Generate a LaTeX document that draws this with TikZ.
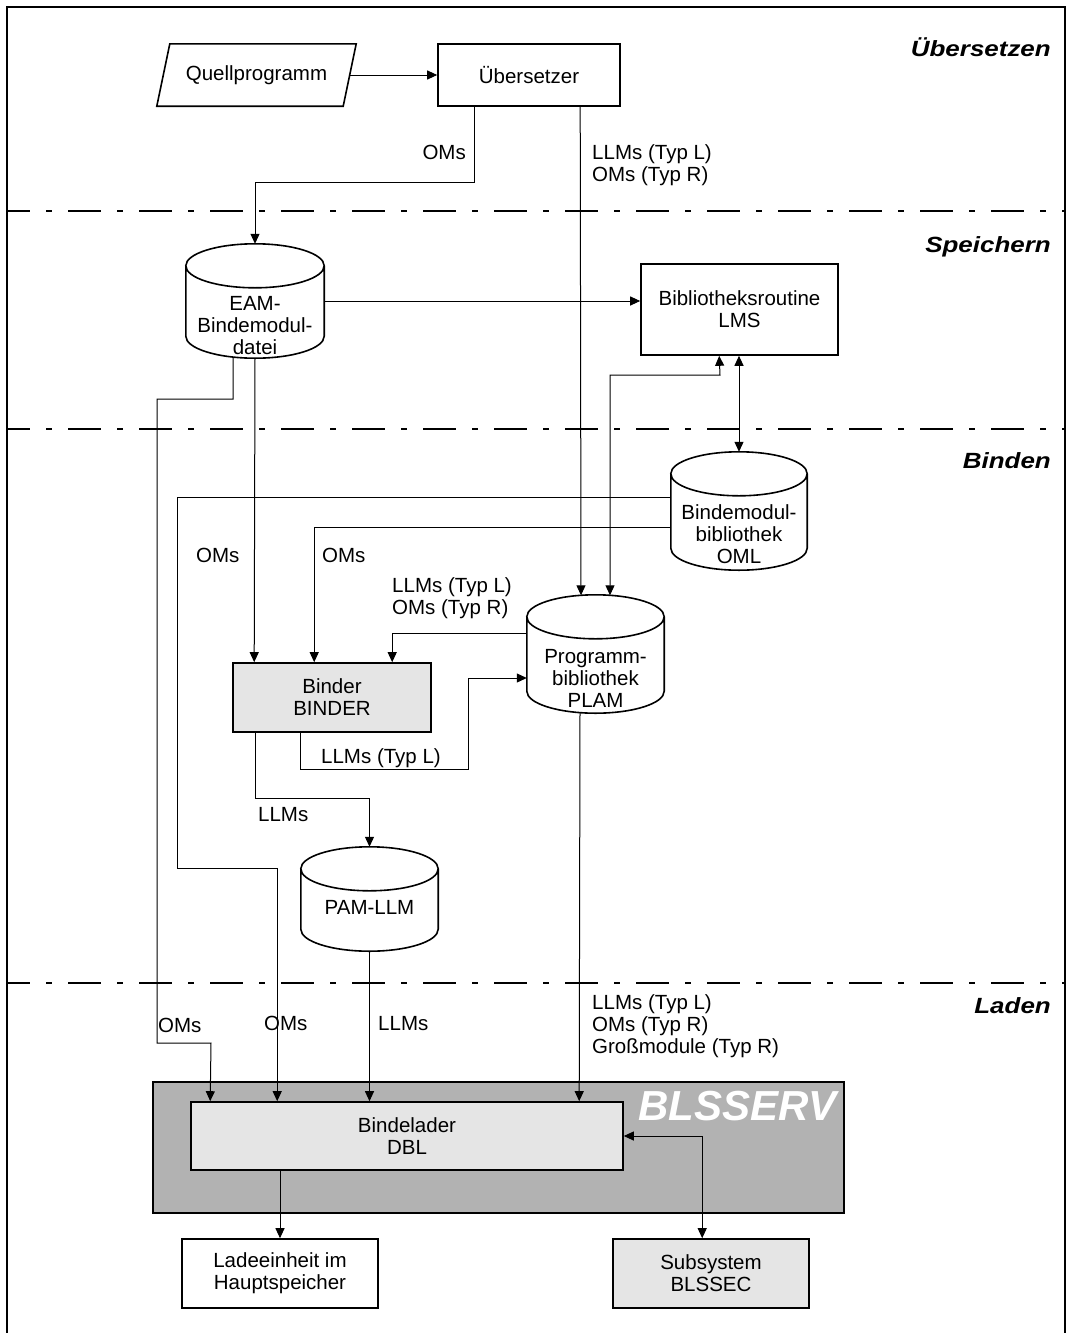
\documentclass[tikz,border=0pt]{standalone}
\usepackage{fontspec}
\setmainfont{Liberation Sans}
\newfontfamily\secfont[FakeStretch=1.18]{Liberation Sans}
\usetikzlibrary{arrows.meta,calc}
\newcommand\cylr{22pt}
\newcommand\drawcyl[1]{%
  \draw[cylline] let \p1=(#1.north west), \p2=(#1.south east) in
    (\x1,{\y1-\cylr}) -- (\x1,{\y2+\cylr})
    arc[start angle=180, end angle=360, x radius={(\x2-\x1)/2}, y radius=\cylr]
    -- (\x2,{\y1-\cylr})
    arc[start angle=0, end angle=180, x radius={(\x2-\x1)/2}, y radius=\cylr]
    arc[start angle=180, end angle=360, x radius={(\x2-\x1)/2}, y radius=\cylr];}
\begin{document}
\begin{tikzpicture}[x=1pt,y=-1pt,
  font=\fontsize{20.5}{22}\selectfont,
  >={Triangle[length=10pt,width=9pt]},
  box/.style={draw, line width=1.6pt, align=center, inner sep=0pt},
  cylnode/.style={inner sep=0pt, draw=none},
  cylline/.style={draw, line width=1.6pt, fill=white},
  conn/.style={line width=1pt},
  lbl/.style={inner sep=0pt, align=left},
  cyltext/.style={inner sep=0pt, align=center, anchor=north},
  secl/.style={font=\secfont\fontsize{22}{24}\selectfont\bfseries\itshape, anchor=base east, inner sep=0pt},
  divline/.style={line width=1.2pt, dash pattern=on 33pt off 16pt on 6pt off 16pt, dash phase=10pt},
  frameline/.style={line width=1.2pt},
  lightfill/.style={fill=black!10}
]
\useasboundingbox (0,0) rectangle (1069,1333);
\draw[frameline] (7,1333) -- (7,7) -- (1065,7) -- (1065,1333);
\foreach \yy in {211,429,983} \draw[divline] (7,\yy) -- (1065,\yy);

% section labels
\node[secl] (sec1) at (1051,56) {Übersetzen};
\node[secl] (sec2) at (1051,252) {Speichern};
\node[secl] (sec3) at (1051,468) {Binden};
\node[secl] (sec4) at (1051,1013) {Laden};

% nodes
\node[inner sep=0pt, minimum width=186pt, minimum height=62pt] (quell) at (256.5,75) {Quellprogramm};
\draw[line width=1.6pt] ($(quell.north west)+(6.5,0)$) -- ($(quell.north east)+(6.5,0)$) -- ($(quell.south east)+(-6.5,0)$) -- ($(quell.south west)+(-6.5,0)$) -- cycle;
\node[box, minimum width=182pt, minimum height=62pt] (ueb) at (529,75) {Übersetzer};
\node[box, minimum width=197pt, minimum height=91pt] (lms) at (739.5,309.5) {Bibliotheksroutine\\LMS};

\node[cylnode, minimum width=138pt, minimum height=114pt] (eam) at (255,301) {};
\drawcyl{eam}
\node[cyltext] (eamT) at (255,296) {EAM-\\Bindemodul-\\datei};

\node[cylnode, minimum width=136pt, minimum height=118pt] (oml) at (739,511) {};
\drawcyl{oml}
\node[cyltext] (omlT) at (739,504.5) {Bindemodul-\\bibliothek\\OML};

\node[cylnode, minimum width=137pt, minimum height=118pt] (plam) at (595.5,654) {};
\drawcyl{plam}
\node[cyltext] (plamT) at (595.5,649.5) {Programm-\\bibliothek\\PLAM};

\node[cylnode, minimum width=137pt, minimum height=104pt] (pam) at (369.5,899) {};
\drawcyl{pam}
\node[cyltext] (pamT) at (369.5,900.5) {PAM-LLM};

\node[box, lightfill, minimum width=198pt, minimum height=69pt] (binder) at (332,697.5) {Binder\\BINDER};

\node[box, fill=black!30, minimum width=691pt, minimum height=131pt] (blsserv) at (498.5,1147.5) {};
\node[anchor=base east, inner sep=0pt, text=white, font=\fontsize{42}{44}\selectfont\bfseries\itshape] (blsT) at (837,1120) {BLSSERV};
\node[box, lightfill, minimum width=432pt, minimum height=68pt] (dbl) at (407,1136) {Bindelader\\DBL};
\node[box, minimum width=196pt, minimum height=69pt] (lade) at (280,1273.5) {Ladeeinheit im\\Hauptspeicher};
\node[box, lightfill, minimum width=196pt, minimum height=69pt] (subsys) at (711,1273.5) {Subsystem\\BLSSEC};

% connectors
\draw[conn,->] (quell.east) -- (ueb.west);
\draw[conn,->] ($(ueb.south west)+(37,0)$) |- (255,182) -- (eam.north);
\node[lbl, anchor=base east] (l1) at (466,159) {OMs};
\draw[conn,->] ($(ueb.south west)+(143,0)$) -- ($(plam.north)+(-14.5,0.5)$);
\node[lbl, anchor=north west] (l2) at (592,144) {LLMs (Typ L)\\OMs (Typ R)};
\draw[conn,->] (eam.east) -- (eam.east -| lms.west);
\draw[conn,->] ($(eam.south)+(-22,-1)$) |- (157,399) |- (211,1043) -- ($(dbl.north west)+(20,0)$);
\node[lbl, anchor=base west] (l3) at (158,1032) {OMs};
\draw[conn,->] (eam.south) -- ($(binder.north west)+(22,0)$);
\node[lbl, anchor=base west] (l4) at (196,562) {OMs};
\draw[conn,<->] ($(plam.north)+(14.5,0.5)$) |- (720,375) -- ($(lms.south west)+(79,0)$);
\draw[conn,<->] (lms.south -| oml.north) -- (oml.north);
\draw[conn,->] ($(oml.west)+(0,-14)$) -| (177,868) -| ($(dbl.north west)+(87,0)$);
\node[lbl, anchor=base west] (l5) at (264,1030) {OMs};
\draw[conn,->] ($(oml.west)+(0,16)$) -| ($(binder.north west)+(82,0)$);
\node[lbl, anchor=base west] (l6) at (322,562) {OMs};
\draw[conn,->] ($(plam.west)+(0,-21)$) -| ($(binder.north west)+(160,0)$);
\node[lbl, anchor=north west] (l7) at (392,577) {LLMs (Typ L)\\OMs (Typ R)};
\draw[conn,->] ($(binder.south west)+(68,0)$) |- (468,769) |- ($(plam.west)+(0,24)$);
\node[lbl, anchor=base west] (l8) at (321,763) {LLMs (Typ L)};
\draw[conn,->] ($(binder.south west)+(23,0)$) |- (369.5,798) -- (pam.north);
\node[lbl, anchor=base west] (l9) at (258,821) {LLMs};
\draw[conn,->] (pam.south) -- (pam.south |- dbl.north);
\node[lbl, anchor=base west] (l10) at (378,1030) {LLMs};
\draw[conn,->] ($(plam.south)+(-15.5,-1)$) -- ($(dbl.north west)+(389,0)$);
\node[lbl, anchor=north west] (l11) at (592,994) {LLMs (Typ L)\\OMs (Typ R)\\Großmodule (Typ R)};
\draw[conn,->] (lade.north |- dbl.south) -- (lade.north);
\draw[conn,<->] ($(subsys.north west)+(90,0)$) |- (dbl.east);
\end{tikzpicture}
\end{document}
